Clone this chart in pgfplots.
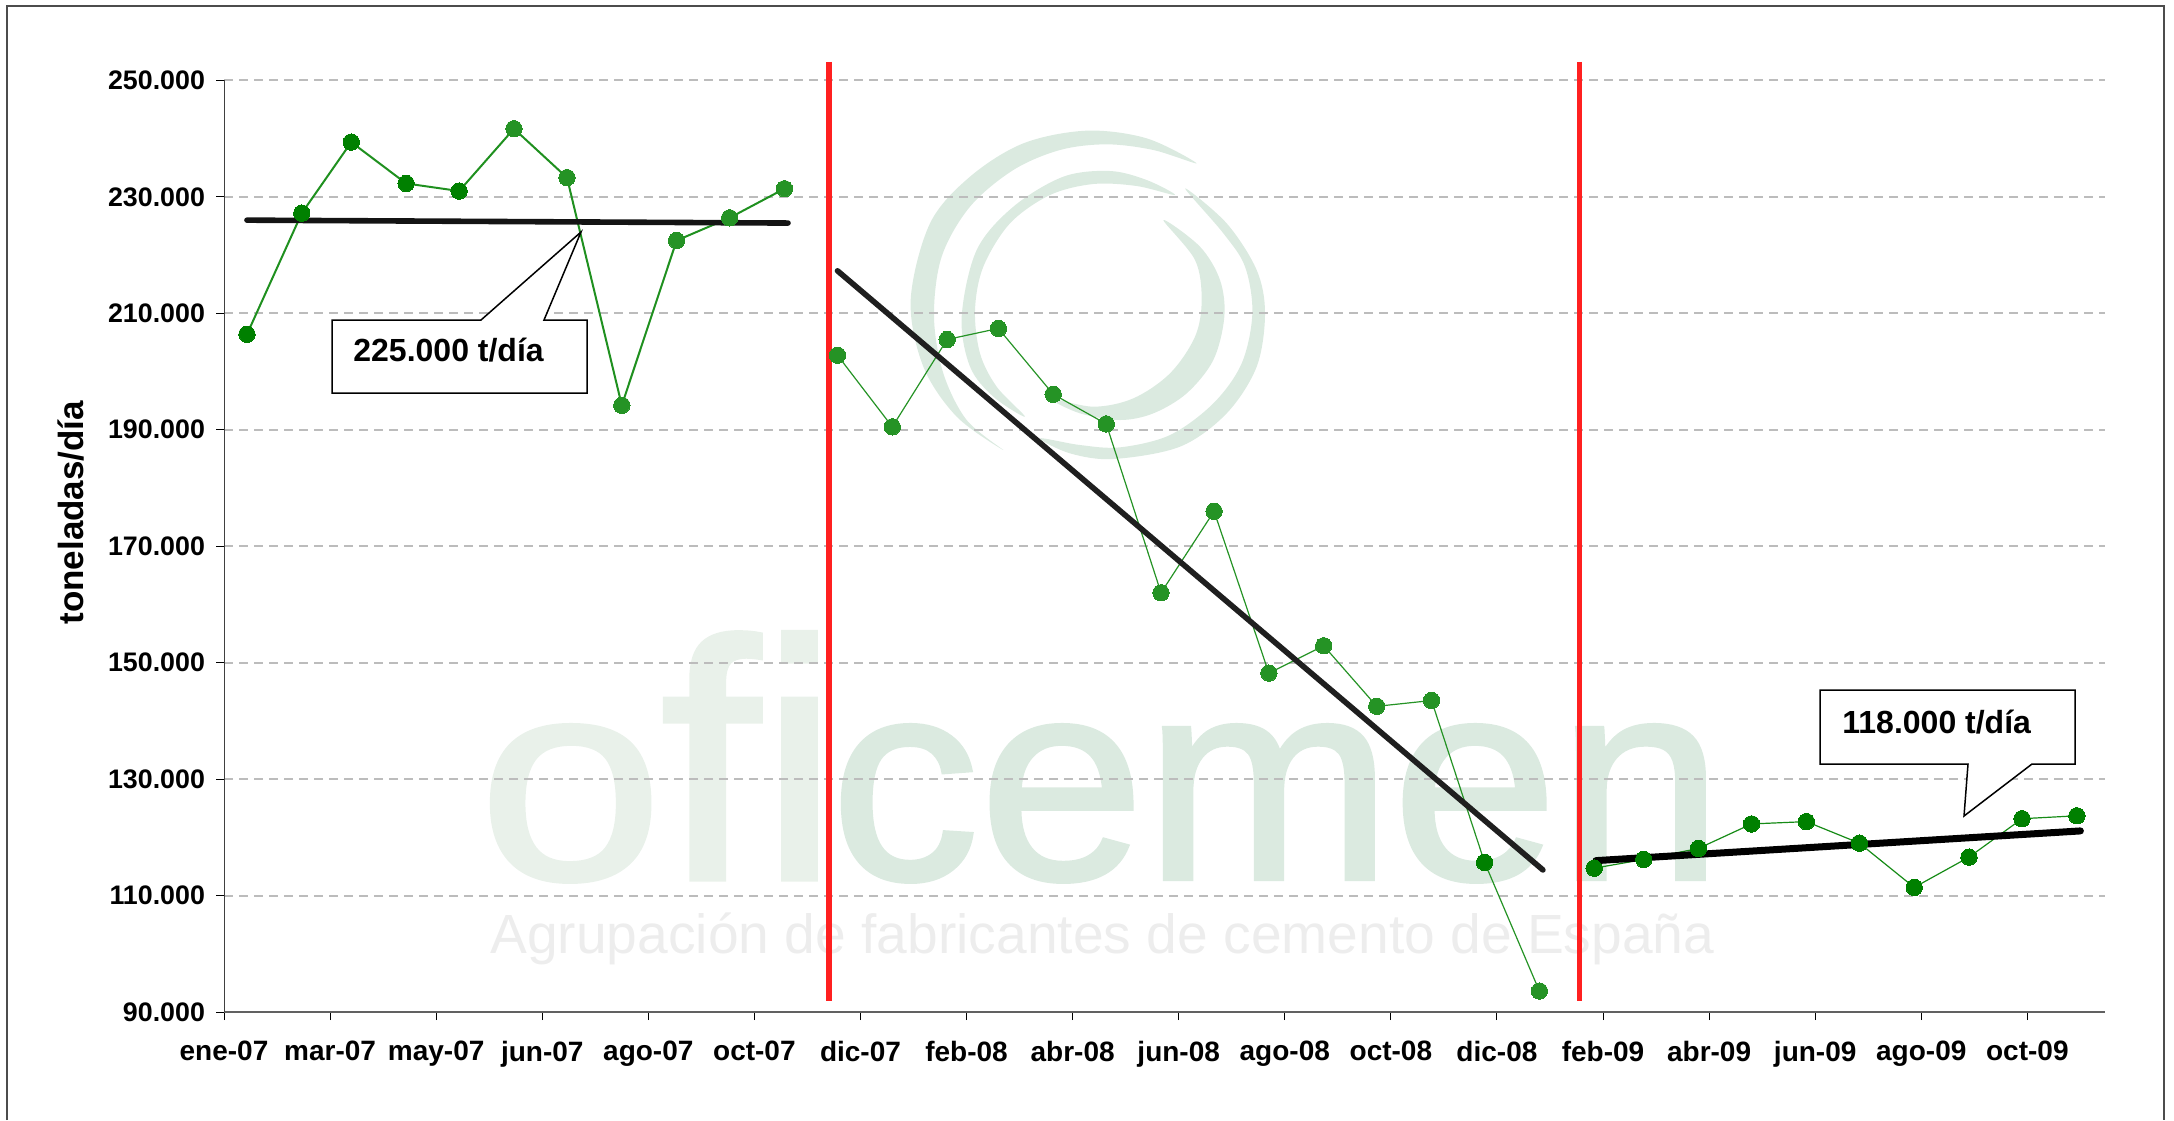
\documentclass[border=0pt]{standalone}
\usepackage{fontspec}
\setmainfont{Liberation Sans}
\newfontfamily\logof[FakeBold=1.5]{Liberation Sans}
\usepackage{pgfplots}
\pgfplotsset{compat=1.18}
\definecolor{gridc}{HTML}{BCBCBC}
\definecolor{logoA}{HTML}{DBEAE0}
\definecolor{logoB}{HTML}{E9F1EA}
\definecolor{tagc}{HTML}{EDEDED}
\definecolor{dkgreen}{HTML}{008000}
\definecolor{ltgreen}{HTML}{259325}
\definecolor{redl}{HTML}{FF2020}
\newcommand{\crescent}[1]{\fill[logoA] plot[smooth cycle,tension=0.55] coordinates {#1};}
\begin{document}
\begin{tikzpicture}
\useasboundingbox (0pt,0pt) rectangle (1087pt,-560pt);
% watermark behind the plot
\begin{scope}[shift={(440pt,-55pt)},x=0.16667pt,y=-0.16667pt]
\crescent{(950,160)(800,85)(620,62)(430,100)(270,200)(150,340)(92,570)(130,770)(230,920)(370,1020)(260,930)(190,790)(162,620)(185,440)(270,290)(400,180)(540,120)(680,103)(820,120)}
\crescent{(915,235)(1040,340)(1130,480)(1155,610)(1130,770)(1040,910)(900,1010)(700,1047)(570,1030)(480,985)(600,1005)(720,1012)(870,975)(1000,880)(1085,760)(1117,610)(1095,470)(1030,370)}
\crescent{(885,255)(800,210)(690,183)(550,200)(400,290)(290,420)(245,620)(270,770)(340,860)(435,920)(350,830)(300,730)(285,600)(310,470)(390,340)(510,255)(640,222)(770,228)}
\crescent{(850,330)(960,410)(1020,510)(1033,620)(1000,750)(920,850)(820,910)(720,930)(600,910)(510,865)(640,890)(760,865)(870,790)(945,680)(965,570)(945,450)}
\end{scope}
\begin{scope}[x=0.5pt,y=-0.5pt]
\node[anchor=base west,inner sep=0pt,text=logoB] at (478,879) {\scalebox{1.16}[1]{\logof\fontsize{143pt}{143pt}\selectfont o}};
\node[anchor=base west,inner sep=0pt,text=logoB] at (660,879) {\scalebox{1.25}[1.19]{\logof\fontsize{143pt}{143pt}\selectfont f{}i}};
\node[anchor=base west,inner sep=0pt,text=logoA] at (830,879) {\scalebox{1.04}[1]{\logof\fontsize{143pt}{143pt}\selectfont cemen}};
\node[anchor=base west,inner sep=0pt,text=tagc] at (490,953) {\resizebox{612pt}{!}{\fontsize{28pt}{30pt}\selectfont Agrupación de fabricantes de cemento de España}};
\end{scope}
\begin{axis}[
  at={(112pt,-506pt)}, anchor=south west,
  scale only axis, width=940.3pt, height=465.8pt,
  xmin=0, xmax=1063.7, ymin=90000, ymax=250000,
  clip=false,
  axis lines=left,
  x axis line style={-,draw=black!62,line width=1pt},
  y axis line style={-,draw=black!75,line width=0.5pt},
  tick align=outside,
  tickwidth=4pt,
  tick style={draw=black,line width=0.5pt},
  xtick={0,60,120,180,240,300,360,420,480,540,600,660,720,780,840,900,960,1020},
  xticklabels={ene-07,mar-07,may-07,jun-07,ago-07,oct-07,dic-07,feb-08,abr-08,jun-08,ago-08,oct-08,dic-08,feb-09,abr-09,jun-09,ago-09,oct-09},
  ytick={90000,110000,130000,150000,170000,190000,210000,230000,250000},
  yticklabels={90.000,110.000,130.000,150.000,170.000,190.000,210.000,230.000,250.000},
  scaled y ticks=false,
  yticklabel style={font=\fontsize{13.4pt}{16pt}\selectfont\bfseries,xshift=-2pt},
  xticklabel style={font=\fontsize{14pt}{16pt}\selectfont\bfseries,yshift=-7pt},
  ylabel={toneladas/día},
  every axis y label/.style={at={(axis description cs:-0.0814,0.536)},rotate=90,anchor=center,
     font=\fontsize{17.5pt}{19pt}\selectfont\bfseries},
  ymajorgrids,
  major grid style={draw=gridc,line width=1pt,dash pattern=on 4.3pt off 3.2pt},
]
% segment lines
\addplot[no marks,color=ltgreen!85!dkgreen,line width=1pt] coordinates {
(13,206400)(44,227200)(72,239400)(103,232300)(133,231000)(164,241700)(194,233300)(225,194200)(256,222500)(286,226400)(317,231400)};
\addplot[no marks,color=ltgreen,line width=0.6pt] coordinates {
(347,202800)(378,190500)(409,205500)(438,207400)(469,196100)(499,191000)(530,162000)(560,176000)(591,148200)(622,152900)(652,142500)(683,143500)(713,115700)(744,93600)};
\addplot[no marks,color=ltgreen!60!dkgreen,line width=0.6pt] coordinates {
(775,114700)(803,116200)(834,118100)(864,122300)(895,122700)(925,119000)(956,111400)(987,116600)(1017,123200)(1048,123700)};
% points
\addplot[only marks,mark=*,mark size=4.1pt,color=dkgreen,mark options={draw=dkgreen,fill=dkgreen,line width=0pt}] coordinates {
(13,206400)(44,227200)(72,239400)(103,232300)(133,231000)};
\addplot[only marks,mark=*,mark size=4.1pt,color=ltgreen,mark options={draw=ltgreen,fill=ltgreen,line width=0pt}] coordinates {
(164,241700)(194,233300)(225,194200)(256,222500)(286,226400)(317,231400)
(347,202800)(378,190500)(409,205500)(438,207400)(469,196100)(499,191000)(530,162000)(560,176000)(591,148200)(622,152900)(652,142500)(683,143500)(744,93600)};
\addplot[only marks,mark=*,mark size=4.1pt,color=dkgreen,mark options={draw=dkgreen,fill=dkgreen,line width=0pt}] coordinates {
(713,115700)(775,114700)(803,116200)(834,118100)(864,122300)(895,122700)(925,119000)(956,111400)(987,116600)(1017,123200)(1048,123700)};
% trend lines
\addplot[no marks,color=black!92,line width=2.8pt,line cap=round] coordinates {(13,226000)(319,225500)};
\addplot[no marks,color=black!88,line width=2.8pt,line cap=round] coordinates {(347,217300)(746,114400)};
\addplot[no marks,color=black,line width=3.5pt,line cap=round] coordinates {(776,116000)(1050,121100)};
% red dividers
\addplot[no marks,color=redl,line width=2.8pt] coordinates {(342.2,253200)(342.2,91900)};
\addplot[no marks,color=redl,line width=2.8pt] coordinates {(766.7,253200)(766.7,91900)};
\end{axis}
\begin{scope}[x=0.5pt,y=-0.5pt]
% frame
\draw[draw=black!70,line width=0.8pt] (7,1120)--(7,6)--(2164,6)--(2164,1120);
% callouts
\draw[fill=white,draw=black,line width=0.75pt] (332,320)--(481,320)--(581,232)--(544,320)--(587,320)--(587,393)--(332,393)--cycle;
\node[anchor=west,inner sep=0pt,font=\fontsize{16pt}{18pt}\selectfont\bfseries] at (353,350) {225.000 t/día};
\draw[fill=white,draw=black,line width=0.75pt] (1820,690)--(2075,690)--(2075,764)--(2032,764)--(1964,816)--(1968,764)--(1820,764)--cycle;
\node[anchor=west,inner sep=0pt,font=\fontsize{16pt}{18pt}\selectfont\bfseries] at (1842,722) {118.000 t/día};
\end{scope}
\end{tikzpicture}
\end{document}
